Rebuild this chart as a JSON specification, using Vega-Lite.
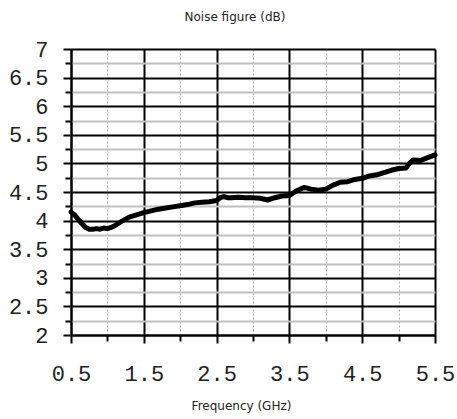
{
  "$schema": "https://vega.github.io/schema/vega-lite/v6.json",
  "width": 364,
  "height": 286,
  "autosize": {"type": "none"},
  "padding": {"left": 71, "top": 49, "right": 22, "bottom": 84},
  "background": "white",
  "title": {"text": "Noise figure (dB)", "font": "DejaVu Sans", "fontSize": 12, "fontWeight": "normal", "color": "#222", "offset": 14, "dx": -18},
  "data": {"values": [
    {"freq": 0.5, "nf": 4.15}, {"freq": 0.55, "nf": 4.1}, {"freq": 0.6, "nf": 4.02}, {"freq": 0.65, "nf": 3.95},
    {"freq": 0.7, "nf": 3.88}, {"freq": 0.75, "nf": 3.85}, {"freq": 0.8, "nf": 3.85}, {"freq": 0.85, "nf": 3.86},
    {"freq": 0.9, "nf": 3.85}, {"freq": 0.95, "nf": 3.87}, {"freq": 1.0, "nf": 3.86}, {"freq": 1.05, "nf": 3.88},
    {"freq": 1.1, "nf": 3.91}, {"freq": 1.2, "nf": 3.99}, {"freq": 1.3, "nf": 4.06}, {"freq": 1.4, "nf": 4.1},
    {"freq": 1.5, "nf": 4.14}, {"freq": 1.6, "nf": 4.17}, {"freq": 1.7, "nf": 4.2}, {"freq": 1.8, "nf": 4.22},
    {"freq": 1.9, "nf": 4.24}, {"freq": 2.0, "nf": 4.26}, {"freq": 2.1, "nf": 4.28}, {"freq": 2.2, "nf": 4.31},
    {"freq": 2.3, "nf": 4.32}, {"freq": 2.4, "nf": 4.33}, {"freq": 2.5, "nf": 4.35}, {"freq": 2.55, "nf": 4.4},
    {"freq": 2.6, "nf": 4.42}, {"freq": 2.65, "nf": 4.4}, {"freq": 2.7, "nf": 4.4}, {"freq": 2.8, "nf": 4.41},
    {"freq": 2.9, "nf": 4.4}, {"freq": 3.0, "nf": 4.4}, {"freq": 3.1, "nf": 4.39}, {"freq": 3.2, "nf": 4.36},
    {"freq": 3.3, "nf": 4.4}, {"freq": 3.4, "nf": 4.43}, {"freq": 3.5, "nf": 4.44}, {"freq": 3.6, "nf": 4.52},
    {"freq": 3.7, "nf": 4.58}, {"freq": 3.8, "nf": 4.55}, {"freq": 3.9, "nf": 4.53}, {"freq": 4.0, "nf": 4.55},
    {"freq": 4.1, "nf": 4.62}, {"freq": 4.2, "nf": 4.67}, {"freq": 4.3, "nf": 4.68}, {"freq": 4.4, "nf": 4.72},
    {"freq": 4.5, "nf": 4.74}, {"freq": 4.6, "nf": 4.78}, {"freq": 4.7, "nf": 4.8}, {"freq": 4.8, "nf": 4.84},
    {"freq": 4.9, "nf": 4.88}, {"freq": 5.0, "nf": 4.91}, {"freq": 5.1, "nf": 4.92}, {"freq": 5.15, "nf": 5.0},
    {"freq": 5.2, "nf": 5.06}, {"freq": 5.3, "nf": 5.05}, {"freq": 5.4, "nf": 5.1}, {"freq": 5.5, "nf": 5.15}
  ]},
  "mark": {"type": "line", "color": "black", "strokeWidth": 5, "strokeJoin": "round", "strokeCap": "round"},
  "encoding": {
    "x": {
      "field": "freq", "type": "quantitative",
      "scale": {"domain": [0.5, 5.5], "nice": false, "zero": false},
      "axis": {
        "title": "Frequency (GHz)", "titleFont": "DejaVu Sans", "titleFontSize": 12, "titleFontWeight": "normal", "titleColor": "#222", "titlePadding": 16, "titleX": 170,
        "values": [0.5, 1, 1.5, 2, 2.5, 3, 3.5, 4, 4.5, 5, 5.5],
        "labelExpr": "datum.value % 1 === 0.5 ? format(datum.value, '.1f') : ''",
        "labelFont": "Liberation Mono", "labelFontSize": 22, "labelColor": "#222", "labelPadding": 20,
        "labelFlush": false, "labelOverlap": false,
        "domainColor": "black", "domainWidth": 2,
        "tickColor": "black", "tickWidth": 2,
        "tickSize": {"condition": {"test": "datum.value % 1 === 0.5", "value": 8}, "value": 6},
        "grid": true,
        "gridColor": {"condition": {"test": "datum.value % 1 === 0.5", "value": "black"}, "value": "#b0b0b0"},
        "gridWidth": {"condition": {"test": "datum.value % 1 === 0.5", "value": 2}, "value": 1},
        "gridDash": {"condition": {"test": "datum.value % 1 === 0.5", "value": []}, "value": [2, 2]}
      }
    },
    "y": {
      "field": "nf", "type": "quantitative",
      "scale": {"domain": [2, 7], "nice": false, "zero": false},
      "axis": {
        "title": null,
        "values": [2, 2.25, 2.5, 2.75, 3, 3.25, 3.5, 3.75, 4, 4.25, 4.5, 4.75, 5, 5.25, 5.5, 5.75, 6, 6.25, 6.5, 6.75, 7],
        "labelExpr": "datum.value % 0.5 === 0 ? format(datum.value, '~g') : ''",
        "labelFont": "Liberation Mono", "labelFontSize": 22, "labelColor": "#222", "labelPadding": 15,
        "labelFlush": false, "labelOverlap": false,
        "domainColor": "black", "domainWidth": 2,
        "tickColor": "black", "tickWidth": 2,
        "tickSize": {"condition": {"test": "datum.value % 0.5 === 0", "value": 8}, "value": 6},
        "grid": true,
        "gridColor": {"condition": {"test": "datum.value % 0.5 === 0", "value": "black"}, "value": "#c0c0c0"},
        "gridWidth": 2
      }
    }
  },
  "config": {"view": {"stroke": null}}
}
